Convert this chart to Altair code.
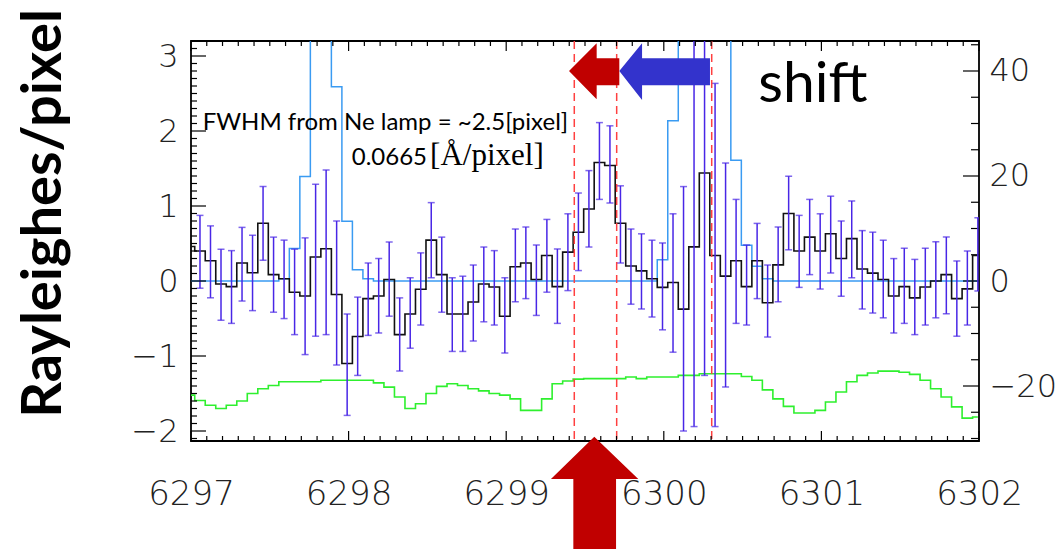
import altair as alt
import pandas as pd

# ---------------- data ----------------
WAVE_START = 6297.057   # centre of first (partly hidden) detector pixel [Å]
DISPERSION = 0.0667     # Å per pixel

# black histogram (Rayleighs/pixel), pixel k = -1 .. 74
signal = [0.46, 0.40, 0.27, -0.04, -0.075, 0.24, 0.11, 0.77, 0.085, 0.03,
          -0.15, -0.20, 0.32, 0.43, -0.18, -1.10, -0.74, -0.235, -0.20, 0.02,
          -0.715, -0.44, -0.11, 0.545, 0.085, -0.44, -0.44, -0.28, -0.04, -0.08,
          -0.47, 0.19, 0.24, 0.02, 0.34, -0.075, 0.385, 0.65, 0.96, 1.58,
          1.54, 0.77, 0.20, 0.135, 0.03, -0.085, -0.02, -0.375, 0.455, 1.44,
          0.34, 0.065, 0.27, -0.075, 0.27, -0.29, 0.215, 0.90, 0.40, 0.585,
          0.40, 0.63, 0.30, 0.565, 0.16, 0.105, 0.02, -0.20, -0.075, -0.225,
          -0.08, 0.0, 0.085, -0.235, -0.105, 0.34]

# error bar ends, pixel k = 0 .. 74
err_hi = [0.875, 0.735, 0.425, 0.405, 0.715, 0.61, 1.26, 0.585, 0.545, 0.425,
          0.575, 1.29, 1.48, 0.80, -0.44, -0.215, 0.24, 0.30, 0.52, -0.225,
          0.043, 0.375, 1.045, 0.585, 0.043, 0.064, 0.213, 0.453, 0.405, 0.043,
          0.693, 0.72, 0.48, 0.821, 0.427, 0.896, 1.173, 1.472, 2.112, 2.069,
          1.269, 0.693, 0.629, 0.544, 0.507, 0.896, 1.259, 3.5, 4.1, 2.635,
          1.573, 1.088, 0.48, 0.768, 0.213, 0.72, 1.397, 0.875, 1.088, 0.896,
          1.131, 0.80, 1.067, 0.672, 0.651, 0.544, 0.299, 0.437, 0.288, 0.437,
          0.523, 0.587, 0.267, 0.40, 0.843]
err_lo = [-0.096, -0.224, -0.523, -0.565, -0.267, -0.395, 0.277, -0.416, -0.501, -0.715,
          -0.981, -0.736, -0.715, -1.12, -1.792, -1.259, -0.725, -0.693, -0.469, -1.20,
          -0.896, -0.587, 0.043, -0.416, -0.939, -0.939, -0.80, -0.544, -0.587, -0.96,
          -0.277, -0.235, -0.459, -0.149, -0.565, -0.128, 0.139, 0.453, 1.088, 1.04,
          0.24, -0.309, -0.373, -0.48, -0.651, -0.949, -2.0, -1.941, -1.259, -1.941,
          -1.413, -0.565, -0.587, -0.235, -0.747, -0.277, 0.416, -0.085, 0.085, -0.107,
          0.107, -0.203, 0.043, -0.373, -0.427, -0.491, -0.693, -0.565, -0.715, -0.587,
          -0.491, -0.437, -0.736, -0.587, -0.133]

# green curve (right axis units), pixel k = -1 .. 74
sky = [-21.74, -22.76, -23.67, -24.28, -23.67, -22.86, -21.44, -20.52, -19.91, -19.2,
       -19.2, -19.2, -19.2, -18.9, -18.9, -18.9, -18.9, -18.9, -19.41, -20.22,
       -22.1, -24.28, -23.37, -21.44, -20.07, -19.56, -19.91, -20.52, -20.93, -21.44,
       -21.74, -22.45, -24.64, -24.64, -22.45, -19.56, -19.05, -18.69, -18.59, -18.59,
       -18.59, -18.59, -18.29, -18.59, -18.29, -18.29, -18.29, -17.98, -17.98, -17.68,
       -17.68, -17.68, -17.68, -18.19, -18.9, -20.73, -22.45, -23.88, -25.15, -25.15,
       -24.64, -23.06, -21.13, -19.2, -17.98, -17.53, -17.17, -17.17, -17.37, -17.78,
       -18.9, -20.52, -22.1, -23.98, -26.11, -25.91]

# light-blue Ne lamp profile (right axis units), pixel k = -1 .. 74
lamp = [0, 0, 0, 0, 0, 0, 0, 0, 0, 0.45,
        6.2, 19.9, 70, 75, 37.0, 11.4, 2.13, 0.45, 0, 0,
        0, 0, 0, 0, 0, 0, 0, 0, 0, 0,
        0, 0, 0, 0, 0, 0, 0, 0, 0, 0,
        0, 0, 0, 0, 0, 4.06, 30.5, 55, 80, 90,
        75, 52, 23.0, 6.8, 2.8, 0.45, 0, 0, 0, 0,
        0, 0, 0, 0, 0, 0, 0, 0, 0, 0,
        0, 0, 0, 0, 0, 0]

window_lines = [6299.432, 6299.701, 6300.304]

x_major = [6297, 6298, 6299, 6300, 6301, 6302]
x_minor = [round(6297 + 0.1 * i, 1) for i in range(51) if i % 10]
left_major = [-2, -1, 0, 1, 2, 3]
left_minor = [round(-2.1 + 0.1 * i, 1) for i in range(54) if (i - 1) % 10]
right_major = [-20, 0, 20, 40]
right_minor = [v for v in range(-30, 46, 5) if v % 20]

# annotations (data coordinates)
note_x = [6297.074, 6298.02]
note_y = [2.013, 1.547]
note_t = ["FWHM from Ne lamp = ~2.5[pixel]", "0.0665"]
unit_x, unit_y, unit_t = [6298.517], [1.547], ["[Å/pixel]"]
shift_x, shift_y, shift_t = [6300.6], [2.391], ["shift"]

red_arrow_x = [6299.3985, 6299.574, 6299.5741, 6299.7177]
red_arrow_lo = [2.80, 2.423, 2.609, 2.609]
red_arrow_hi = [2.80, 3.169, 2.969, 2.969]
blue_arrow_x = [6299.7177, 6299.862, 6299.8621, 6300.293]
blue_arrow_lo = [2.80, 2.413, 2.609, 2.609]
blue_arrow_hi = [2.80, 3.169, 2.969, 2.969]
up_arrow_y = [-2.076, -2.64, -2.6401, -3.6]
up_arrow_l = [6299.559, 6299.284, 6299.426, 6299.426]
up_arrow_r = [6299.559, 6299.838, 6299.697, 6299.697]

# ---------------- tables ----------------
wave = [round(WAVE_START + DISPERSION * (i - 1), 4) for i in range(len(signal))]
df = pd.DataFrame({"wave": wave, "flux": signal, "sky": sky, "lamp": lamp})
edf = pd.DataFrame({"wave": wave[1:], "lo": err_lo, "hi": err_hi})

W, H = 788, 400
xs = alt.Scale(domain=[6297, 6302], nice=False, zero=False)
ls = alt.Scale(domain=[-2.1333, 3.2], nice=False, zero=False)
rs = alt.Scale(domain=[-30.476, 45.714], nice=False, zero=False)

lab = dict(labelFont="DejaVu Sans", labelFontWeight=200, labelFlush=False,
           labelColor="#222222", ticks=False, tickSize=0, domain=False, grid=False)
AX_X = alt.Axis(values=x_major, format="d", orient="bottom", labelPadding=36,
                labelFontSize=34, title=None, **lab)
AX_L = alt.Axis(values=left_major, format="d", orient="left", labelPadding=13, labelFontSize=32,
                title="Rayleighes/pixel", titleFont="Lato", titleFontWeight="bold", titleFontSize=56,
                titleAngle=270, titleX=-131, titleY=172, titleAlign="center",
                titleBaseline="alphabetic", titleColor="black", **lab)
AX_R = alt.Axis(values=right_major, format="d", orient="right", labelPadding=10, labelFontSize=32,
                title=None, **lab)

X = lambda f: alt.X(f, scale=xs, axis=AX_X)
YL = lambda f: alt.Y(f, scale=ls, axis=AX_L)
YR = lambda f: alt.Y(f, scale=rs, axis=AX_R)

EB = "#4826E6"
tick_col = dict(color="black", strokeWidth=1.2)

# ----- left-scale group -----
flux_line = alt.Chart(df).mark_line(interpolate="step", color="#111111", strokeWidth=1.6, clip=True).encode(
    x=X("wave:Q"), y=YL("flux:Q"))
ebar = alt.Chart(edf).mark_rule(color=EB, strokeWidth=1.5, clip=True).encode(
    x=X("wave:Q"), y=YL("lo:Q"), y2="hi:Q")
cap_hi = alt.Chart(edf).mark_tick(orient="horizontal", size=7, thickness=1.5, color=EB, clip=True).encode(
    x=X("wave:Q"), y=YL("hi:Q"))
cap_lo = alt.Chart(edf).mark_tick(orient="horizontal", size=7, thickness=1.5, color=EB, clip=True).encode(
    x=X("wave:Q"), y=YL("lo:Q"))
dashed = alt.Chart(pd.DataFrame({"w": window_lines})).mark_rule(
    color="#FF4040", strokeDash=[8, 5], strokeWidth=1.5).encode(x=X("w:Q"))

xmaj = pd.DataFrame({"t": x_major})
xmin = pd.DataFrame({"t": x_minor})
xt = [
    alt.Chart(xmaj).mark_rule(**tick_col).encode(x=X("t:Q"), y=alt.value(H), y2=alt.value(H - 10)),
    alt.Chart(xmaj).mark_rule(**tick_col).encode(x=X("t:Q"), y=alt.value(0), y2=alt.value(10)),
    alt.Chart(xmin).mark_rule(**tick_col).encode(x=X("t:Q"), y=alt.value(H), y2=alt.value(H - 5)),
    alt.Chart(xmin).mark_rule(**tick_col).encode(x=X("t:Q"), y=alt.value(0), y2=alt.value(5)),
    alt.Chart(pd.DataFrame({"t": left_major})).mark_rule(**tick_col).encode(
        y=YL("t:Q"), x=alt.value(0), x2=alt.value(15)),
    alt.Chart(pd.DataFrame({"t": left_minor})).mark_rule(**tick_col).encode(
        y=YL("t:Q"), x=alt.value(0), x2=alt.value(6)),
]

red_arrow = alt.Chart(pd.DataFrame({"x": red_arrow_x, "y": red_arrow_lo, "y2": red_arrow_hi})).mark_area(
    color="#C00000", opacity=1).encode(x=X("x:Q"), y=YL("y:Q"), y2="y2:Q")
blue_arrow = alt.Chart(pd.DataFrame({"x": blue_arrow_x, "y": blue_arrow_lo, "y2": blue_arrow_hi})).mark_area(
    color="#3333CC", opacity=1).encode(x=X("x:Q"), y=YL("y:Q"), y2="y2:Q")
up_arrow = alt.Chart(pd.DataFrame({"y": up_arrow_y, "x": up_arrow_l, "x2": up_arrow_r})).mark_area(
    color="#C00000", opacity=1, orient="horizontal").encode(y=YL("y:Q"), x=X("x:Q"), x2="x2:Q")

notes = alt.Chart(pd.DataFrame({"x": note_x, "y": note_y, "t": note_t})).mark_text(
    font="Lato", fontSize=24, align="left", baseline="alphabetic", color="black").encode(
    x=X("x:Q"), y=YL("y:Q"), text="t:N")
units = alt.Chart(pd.DataFrame({"x": unit_x, "y": unit_y, "t": unit_t})).mark_text(
    font="Liberation Serif", fontSize=31, align="left", baseline="alphabetic", color="black").encode(
    x=X("x:Q"), y=YL("y:Q"), text="t:N")
shift = alt.Chart(pd.DataFrame({"x": shift_x, "y": shift_y, "t": shift_t})).mark_text(
    font="Lato", fontSize=57, align="left", baseline="alphabetic", color="black").encode(
    x=X("x:Q"), y=YL("y:Q"), text="t:N")

left_group = alt.layer(flux_line, ebar, cap_hi, cap_lo, dashed, *xt,
                       red_arrow, blue_arrow, up_arrow, notes, units, shift)

# ----- right-scale group -----
lamp_line = alt.Chart(df).mark_line(interpolate="step", color="#3A9BF2", strokeWidth=1.5, clip=True).encode(
    x=X("wave:Q"), y=YR("lamp:Q"))
sky_line = alt.Chart(df).mark_line(interpolate="step", color="#2EF02E", strokeWidth=1.6, clip=True).encode(
    x=X("wave:Q"), y=YR("sky:Q"))
rt = [
    alt.Chart(pd.DataFrame({"t": right_major})).mark_rule(**tick_col).encode(
        y=YR("t:Q"), x=alt.value(W), x2=alt.value(W - 16)),
    alt.Chart(pd.DataFrame({"t": right_minor})).mark_rule(**tick_col).encode(
        y=YR("t:Q"), x=alt.value(W), x2=alt.value(W - 8)),
]
right_group = alt.layer(lamp_line, sky_line, *rt)

chart = alt.layer(right_group, left_group).resolve_scale(y="independent").properties(
    width=W, height=H,
    padding={"left": 191, "top": 41, "right": 1058 - 191 - W, "bottom": 549 - 41 - H},
    autosize=alt.AutoSizeParams(type="none"),
    background="white",
).configure_view(stroke="black", strokeWidth=1.8)

chart.save("out.html", embed_options={"renderer": "svg", "actions": False})
